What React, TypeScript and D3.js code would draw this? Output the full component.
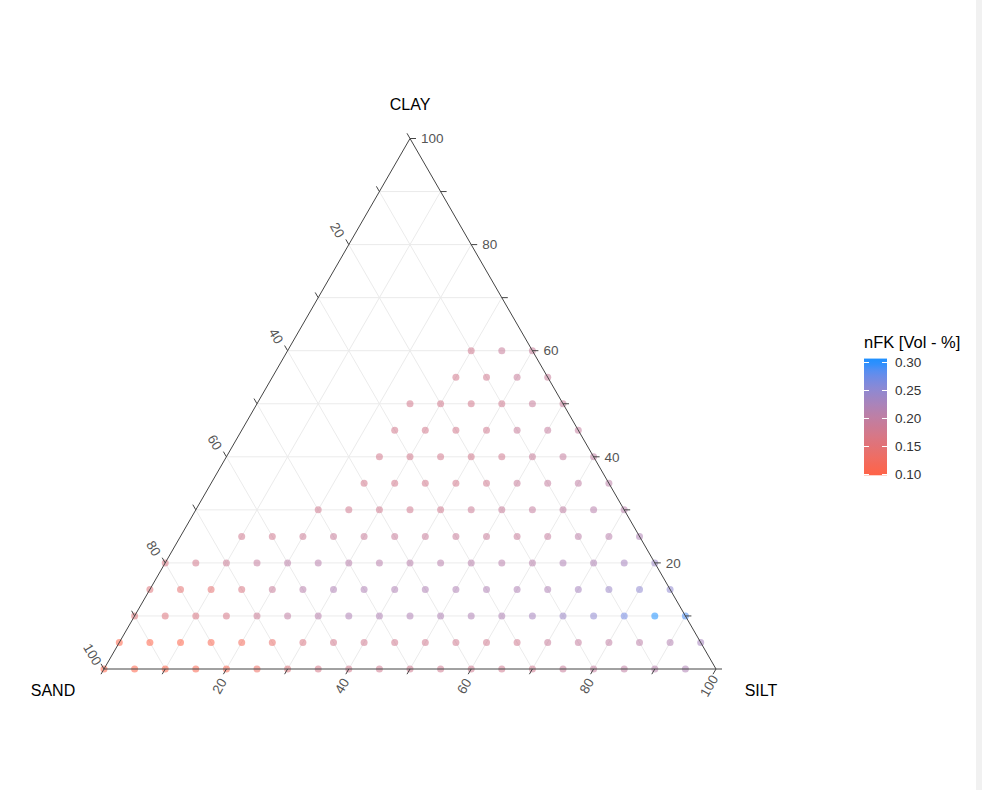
import React from 'react';
import * as d3 from 'd3';

// ---- data ----
const clayLevels = [0, 5, 10, 15, 20, 25, 30, 35, 40, 45, 50, 55, 60];
const siltStart = [0, 0, 0, 0, 0, 10, 20, 25, 25, 25, 25, 30, 30];
const nfkClay0 = [0.10, 0.10, 0.10, 0.11, 0.11, 0.13, 0.155, 0.17, 0.175, 0.18, 0.18, 0.18, 0.18, 0.18, 0.18, 0.19, 0.195, 0.20, 0.21, 0.22];
const nfkClay5 = [0.10, 0.10, 0.10, 0.11, 0.12, 0.14, 0.165, 0.175, 0.18, 0.18, 0.18, 0.18, 0.18, 0.18, 0.19, 0.195, 0.20, 0.205, 0.215, 0.23];
const nfkClay10 = [0.155, 0.16, 0.165, 0.17, 0.185, 0.20, 0.21, 0.22, 0.22, 0.22, 0.22, 0.22, 0.22, 0.23, 0.24, 0.25, 0.27, 0.30, 0.29];
const nfkClay15 = [0.155, 0.145, 0.145, 0.165, 0.19, 0.21, 0.22, 0.22, 0.22, 0.22, 0.22, 0.22, 0.22, 0.22, 0.23, 0.24, 0.25, 0.25];
const nfkClay20 = [0.165, 0.175, 0.185, 0.195, 0.205, 0.21, 0.21, 0.21, 0.21, 0.21, 0.21, 0.21, 0.21, 0.22, 0.22, 0.23, 0.24];
const nfkClay25 = [0.18, 0.18, 0.185, 0.19, 0.19, 0.19, 0.19, 0.19, 0.19, 0.19, 0.195, 0.205, 0.21, 0.22];
const nfkClay30 = [0.18, 0.18, 0.18, 0.18, 0.18, 0.185, 0.19, 0.195, 0.20, 0.21, 0.21];
const nfkClay35 = [0.175, 0.175, 0.175, 0.175, 0.18, 0.19, 0.195, 0.20, 0.205];
const nfkClay40 = [0.175, 0.175, 0.175, 0.175, 0.18, 0.19, 0.195, 0.20];
const nfkClay45 = [0.175, 0.175, 0.175, 0.18, 0.19, 0.195, 0.195];
const nfkClay50 = [0.175, 0.175, 0.175, 0.18, 0.19, 0.19];
const nfkClay55 = [0.175, 0.18, 0.19, 0.19];
const nfkClay60 = [0.18, 0.19, 0.19];
const nfkRows = [nfkClay0, nfkClay5, nfkClay10, nfkClay15, nfkClay20, nfkClay25, nfkClay30, nfkClay35, nfkClay40, nfkClay45, nfkClay50, nfkClay55, nfkClay60];

const axisTicks = [0, 10, 20, 30, 40, 50, 60, 70, 80, 90, 100];
const axisLabels = [20, 40, 60, 80, 100];
const gridValues = [10, 20, 30, 40, 50, 60, 70, 80, 90];
const legendTicks = [0.10, 0.15, 0.20, 0.25, 0.30];
const legendTitle = 'nFK [Vol - %]';

// ---- geometry ----
const W = 982;
const H = 790;
const xS = d3.scaleLinear().domain([0, 100]).range([104, 716]);
const yS = d3.scaleLinear().domain([0, 100]).range([669, 138.5]);
const proj = (clay: number, silt: number): [number, number] => [xS(silt + clay / 2), yS(clay)];

const color = d3
  .scaleLinear<string>()
  .domain([0.1, 0.3])
  .range(['tomato', 'dodgerblue'])
  .interpolate(d3.interpolateLab)
  .clamp(true);

const legendY = d3.scaleLinear().domain([0.1, 0.3]).range([474.5, 362.5]);

type Pt = { clay: number; silt: number; sand: number; v: number };
const points: Pt[] = [];
clayLevels.forEach((clay, r) => {
  nfkRows[r].forEach((v, i) => {
    const silt = siltStart[r] + i * 5;
    points.push({ clay, silt, sand: 100 - clay - silt, v });
  });
});

const gridColor = '#ebebeb';
const axisColor = '#444';
const tickText = '#555';
const fontFam = 'Liberation Sans, Arial, sans-serif';

export default function App() {
  const line = d3.line();
  const grid: [number, number][][] = [];
  gridValues.forEach((v) => {
    grid.push([proj(v, 0), proj(v, 100 - v)]);
    grid.push([proj(0, v), proj(100 - v, v)]);
    grid.push([proj(0, 100 - v), proj(100 - v, 0)]);
  });

  const A = proj(100, 0);
  const B = proj(0, 0);
  const C = proj(0, 100);

  const tickLen = 6;
  const dL: [number, number] = [-0.5, -0.866];
  const dB: [number, number] = [-0.5, 0.866];

  const nStops = 20;
  const stops = d3.range(nStops + 1).map((i) => {
    const t = i / nStops;
    const v = 0.0986 + t * (0.307 - 0.0986);
    return { off: t, c: color(v) };
  });
  const barTop = legendY(0.307);
  const barBot = legendY(0.0986);

  return (
    <svg
      width={W}
      height={H}
      style={{ position: 'absolute', left: 0, top: 0, background: '#fff' }}
      fontFamily={fontFam}
    >
      <defs>
        <linearGradient id="cbar" x1="0" y1="1" x2="0" y2="0">
          {stops.map((s, i) => (
            <stop key={i} offset={s.off} stopColor={s.c} />
          ))}
        </linearGradient>
      </defs>
      <rect x={0} y={0} width={W} height={H} fill="#fff" />
      <rect x={976} y={0} width={6} height={H} fill="#f1f1f1" />

      {grid.map((g, i) => (
        <path key={'g' + i} d={line(g) || ''} stroke={gridColor} strokeWidth={1} fill="none" />
      ))}

      {points.map((p, i) => {
        const [x, y] = proj(p.clay, p.silt);
        return <circle key={'p' + i} cx={x} cy={y} r={3.5} fill={color(p.v)} fillOpacity={0.55} />;
      })}

      <path d={(line([A, B, C]) || '') + 'Z'} stroke={axisColor} strokeWidth={1} fill="none" />

      {axisTicks.map((t) => {
        const [x, y] = proj(t, 100 - t);
        return <line key={'rt' + t} x1={x} y1={y} x2={x + tickLen} y2={y} stroke={axisColor} strokeWidth={1} />;
      })}
      {axisLabels.map((t) => {
        const [x, y] = proj(t, 100 - t);
        return (
          <text key={'rl' + t} x={x + 11} y={y} dy="0.35em" fontSize={13.5} fill={tickText}>
            {t}
          </text>
        );
      })}

      {axisTicks.map((t) => {
        const [x, y] = proj(100 - t, 0);
        return (
          <line key={'lt' + t} x1={x} y1={y} x2={x + dL[0] * tickLen} y2={y + dL[1] * tickLen} stroke={axisColor} strokeWidth={1} />
        );
      })}
      {axisLabels.map((t) => {
        const [x, y] = proj(100 - t, 0);
        const lx = x - 11.5;
        const ly = y - 14.5;
        return (
          <text
            key={'ll' + t}
            x={lx}
            y={ly}
            dy="0.35em"
            textAnchor="middle"
            fontSize={13.5}
            fill={tickText}
            transform={`rotate(60 ${lx} ${ly})`}
          >
            {t}
          </text>
        );
      })}

      {axisTicks.map((t) => {
        const [x, y] = proj(0, t);
        return (
          <line key={'bt' + t} x1={x} y1={y} x2={x + dB[0] * tickLen} y2={y + dB[1] * tickLen} stroke={axisColor} strokeWidth={1} />
        );
      })}
      {axisLabels.map((t) => {
        const [x, y] = proj(0, t);
        const lx = x - 7;
        const ly = y + 17;
        return (
          <text
            key={'bl' + t}
            x={lx}
            y={ly}
            dy="0.35em"
            textAnchor="middle"
            fontSize={13.5}
            fill={tickText}
            transform={`rotate(-60 ${lx} ${ly})`}
          >
            {t}
          </text>
        );
      })}

      <text x={A[0]} y={110} textAnchor="middle" fontSize={16} fill="#000">CLAY</text>
      <text x={53} y={696} textAnchor="middle" fontSize={16} fill="#000">SAND</text>
      <text x={761} y={696} textAnchor="middle" fontSize={16} fill="#000">SILT</text>

      <text x={864} y={348} fontSize={16.5} fill="#000">{legendTitle}</text>
      <rect x={864} y={barTop} width={23} height={barBot - barTop} fill="url(#cbar)" />
      {legendTicks.map((t) => (
        <g key={'lg' + t}>
          <line x1={864} x2={869} y1={legendY(t)} y2={legendY(t)} stroke="#fff" strokeWidth={1} />
          <line x1={882} x2={887} y1={legendY(t)} y2={legendY(t)} stroke="#fff" strokeWidth={1} />
          <text x={895} y={legendY(t)} dy="0.35em" fontSize={13.5} fill="#333">
            {t.toFixed(2)}
          </text>
        </g>
      ))}
    </svg>
  );
}
